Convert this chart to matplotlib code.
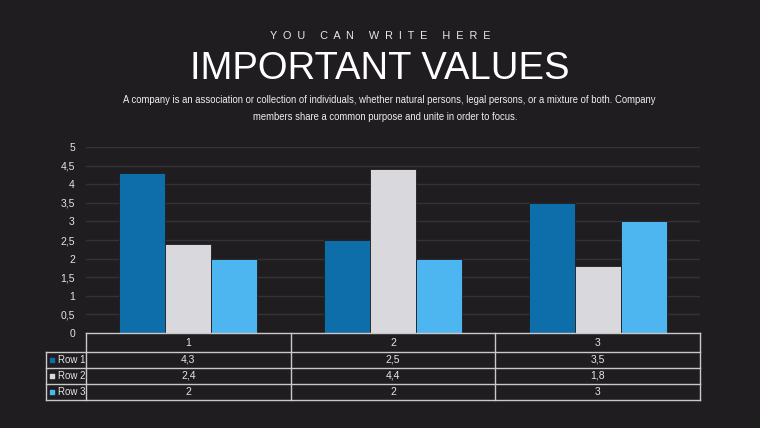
import matplotlib.pyplot as plt
import numpy as np

# ======================
# data
# ======================
categories = ["1", "2", "3"]
row_names = ["Row 1", "Row 2", "Row 3"]
row1 = [4.3, 2.5, 3.5]
row2 = [2.4, 4.4, 1.8]
row3 = [2.0, 2.0, 3.0]
y_ticks = [0, 0.5, 1, 1.5, 2, 2.5, 3, 3.5, 4, 4.5, 5]

BG = "#1f1d1f"
COLORS = ["#0e6ea9", "#d9d8dc", "#4db5f0"]
GRID = "#343236"
LINE = "#c9c9c9"
TXT = "#e6e6e6"

plt.rcParams.update({
    "font.family": ["Liberation Sans", "DejaVu Sans"],
    "font.size": 8,
})


def fmt(v):
    s = ("%g" % v)
    return s.replace(".", ",")


fig = plt.figure(figsize=(7.6, 4.28), dpi=100, facecolor=BG)

# header texts
fig.text(380 / 760, 1 - 36 / 428, "     ".join("  ".join(w) for w in "YOU CAN WRITE HERE".split()),
         ha="center", va="center", color="#e8e8e8", fontsize=7.8)
fig.text(380 / 760, 1 - 69 / 428, "IMPORTANT VALUES", ha="center", va="center",
         color="white", fontsize=27.5)
fig.text(389 / 760, 1 - 100 / 428,
         "A company is an association or collection of individuals, whether natural persons, legal persons, or a mixture of both. Company",
         ha="center", va="center", color="#f0f0f0", fontsize=6.85)
fig.text(385 / 760, 1 - 117 / 428, "members share a common purpose and unite in order to focus.",
         ha="center", va="center", color="#f0f0f0", fontsize=6.85)

# axes
ax = fig.add_axes([86 / 760, 1 - 333 / 428, 614 / 760, 186 / 428])
ax.set_facecolor(BG)
x = np.arange(len(categories))
w = 0.225
series = [row1, row2, row3]
for i, vals in enumerate(series):
    ax.bar(x + (i - 1) * w, vals, width=w, color=COLORS[i], zorder=3,
           edgecolor=BG, linewidth=0.6)

ax.set_xlim(-0.5, len(categories) - 0.5)
ax.set_ylim(0, 5)
ax.set_yticks(y_ticks)
ax.set_yticklabels([fmt(t) for t in y_ticks], color=TXT, fontsize=7.5)
ax.tick_params(axis="y", length=0, pad=8)
ax.set_xticks([])
ax.grid(axis="y", color=GRID, linewidth=1, zorder=0)
for s in ax.spines.values():
    s.set_visible(False)

# ======================
# data table under the chart
# ======================
trans = ax.get_xaxis_transform()
px = 1 / 186.0  # one pixel in axes-fraction units (vertical)
unit = 1 / 204.7  # one pixel in data units (horizontal)
y_head = -19 * px
row_h = 16 * px
y_rows = [y_head - k * row_h for k in range(len(row_names) + 1)]
x_left = -0.5 - 40 * unit
x_bounds = [-0.5 + k for k in range(len(categories) + 1)]

kw = dict(transform=trans, color=LINE, linewidth=1, clip_on=False, zorder=5)
ax.plot([x_bounds[0], x_bounds[-1]], [0, 0], **kw)
for yy in y_rows:
    ax.plot([x_left, x_bounds[-1]], [yy, yy], **kw)
for xx in x_bounds:
    ax.plot([xx, xx], [0, y_rows[-1]], **kw)
ax.plot([x_left, x_left], [y_rows[0], y_rows[-1]], **kw)

for j, c in enumerate(categories):
    ax.text(x[j], y_head / 2, c, transform=trans, ha="center", va="center",
            color=TXT, fontsize=7.5)
for i, (name, vals) in enumerate(zip(row_names, series)):
    yc = (y_rows[i] + y_rows[i + 1]) / 2
    ax.scatter([x_left + 6 * unit], [yc], marker="s", s=11, color=COLORS[i],
               transform=trans, clip_on=False, zorder=6)
    ax.text(x_left + 12 * unit, yc, name, transform=trans, ha="left", va="center",
            color=TXT, fontsize=7)
    for j, v in enumerate(vals):
        ax.text(x[j], yc, fmt(v), transform=trans, ha="center", va="center",
                color=TXT, fontsize=7.5)

fig.savefig("out.png", dpi=100, facecolor=BG)
